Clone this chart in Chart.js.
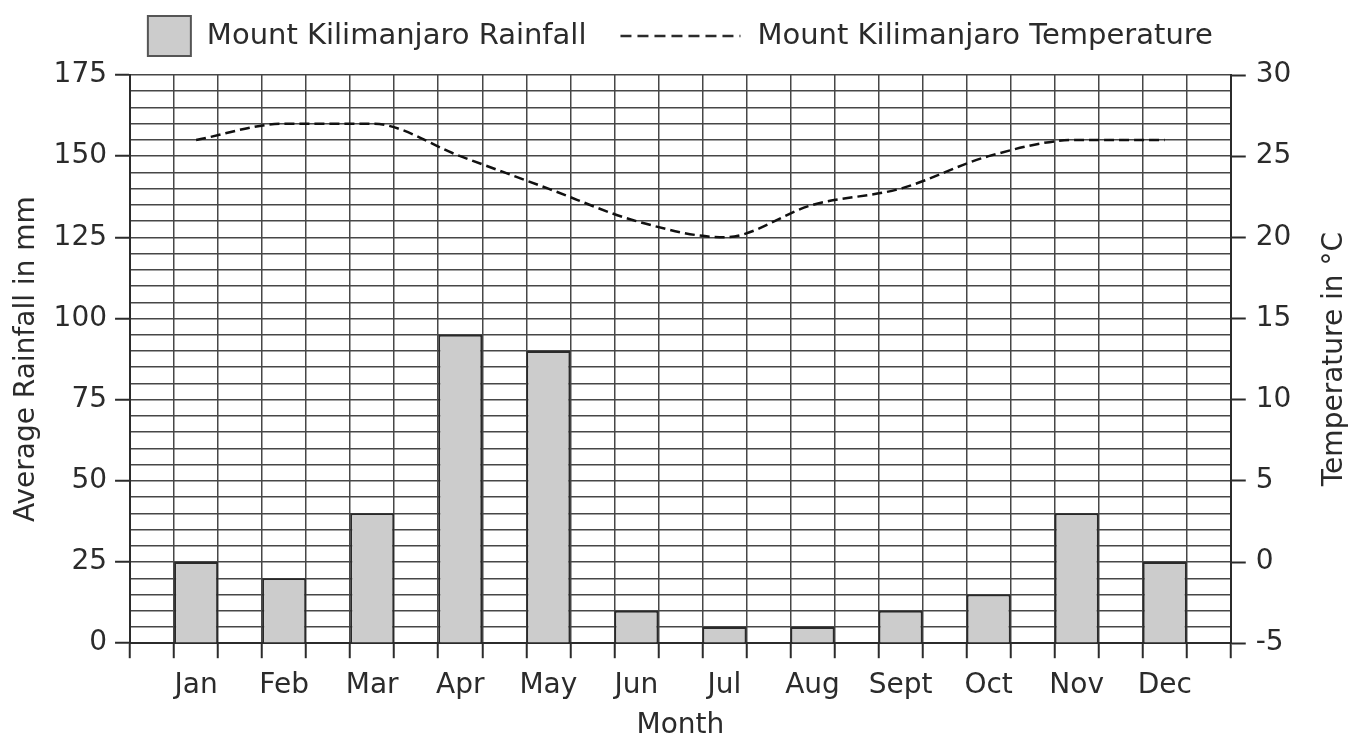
<!DOCTYPE html>
<html>
<head>
<meta charset="utf-8">
<script src="https://cdn.jsdelivr.net/npm/chart.js@4"></script>
<style>
    html, body { margin: 0; padding: 0; background: #fff; }
    #wrap { width: 1363px; height: 738px; }
</style>
</head>
<body>
<div id="wrap"><canvas id="climate-chart"></canvas></div>
<script>
// Chart data
const months = ['Jan', 'Feb', 'Mar', 'Apr', 'May', 'Jun', 'Jul', 'Aug', 'Sept', 'Oct', 'Nov', 'Dec'];
const rainfall = [25, 20, 40, 95, 90, 10, 5, 5, 10, 15, 40, 25];
const temperature = [26, 27, 27, 25, 23, 21, 20, 22, 23, 25, 26, 26];
const rainTicks = [0, 25, 50, 75, 100, 125, 150, 175];
const tempTicks = [-5, 0, 5, 10, 15, 20, 25, 30];

const rainLabel = 'Mount Kilimanjaro Rainfall';
const tempLabel = 'Mount Kilimanjaro Temperature';
const FONT = '"DejaVu Sans", "Open Sans", sans-serif';
const GRID = '#474747';
const INK = '#2b2b2b';

// each month takes two grid columns, bar sits in the second one
const monthPos = months.map((m, i) => 2 * i + 1.5);

// legend + right axis title drawn by hand (legend needs a long dashed sample)
const extrasPlugin = {
    id: 'extras',
    afterDraw(chart) {
        const ctx = chart.ctx;
        const area = chart.chartArea;
        ctx.save();
        ctx.font = '29px ' + FONT;
        ctx.fillStyle = INK;
        ctx.textBaseline = 'middle';

        const boxW = 43, boxH = 40, lineW = 120;
        const w1 = ctx.measureText(rainLabel).width;
        const w2 = ctx.measureText(tempLabel).width;
        const total = boxW + 16 + w1 + 34 + lineW + 17 + w2;
        let x = (area.left + area.right) / 2 - total / 2;
        const y = 36;

        ctx.fillStyle = '#cccccc';
        ctx.fillRect(x, y - boxH / 2, boxW, boxH);
        ctx.strokeStyle = '#555';
        ctx.lineWidth = 2;
        ctx.strokeRect(x, y - boxH / 2, boxW, boxH);
        x += boxW + 16;
        ctx.fillStyle = INK;
        ctx.fillText(rainLabel, x, y);
        x += w1 + 34;

        ctx.beginPath();
        ctx.setLineDash([11, 6]);
        ctx.strokeStyle = INK;
        ctx.lineWidth = 2.5;
        ctx.moveTo(x, y);
        ctx.lineTo(x + lineW, y);
        ctx.stroke();
        ctx.setLineDash([]);
        x += lineW + 17;
        ctx.fillText(tempLabel, x, y);

        // right axis title reads bottom to top
        const r = chart.scales.y1;
        ctx.translate(r.right - 17, (area.top + area.bottom) / 2);
        ctx.rotate(-Math.PI / 2);
        ctx.textAlign = 'center';
        ctx.font = '28px ' + FONT;
        ctx.fillText('Temperature in °C', 0, 0);
        ctx.restore();
    }
};

function tickVal(c) {
    return c.tick ? c.tick.value : NaN;
}

function initializeChart() {
    const ctx = document.getElementById('climate-chart').getContext('2d');

    new Chart(ctx, {
        data: {
            datasets: [{
                type: 'line',
                label: tempLabel,
                data: monthPos.map((x, i) => ({ x: x, y: temperature[i] })),
                yAxisID: 'y1',
                borderColor: '#111',
                borderWidth: 2.5,
                borderDash: [10, 5],
                pointRadius: 0,
                fill: false,
                cubicInterpolationMode: 'monotone'
            }, {
                type: 'bar',
                label: rainLabel,
                data: monthPos.map((x, i) => ({ x: x, y: rainfall[i] })),
                yAxisID: 'y',
                backgroundColor: '#cccccc',
                borderColor: '#2a2a2a',
                borderWidth: 2,
                // ruler uses the half-unit tick spacing, so 2x fills one grid column
                barPercentage: 2,
                categoryPercentage: 1
            }]
        },
        options: {
            responsive: true,
            maintainAspectRatio: false,
            animation: false,
            layout: { padding: { top: 75, left: 10, right: 11, bottom: 0 } },
            plugins: {
                legend: { display: false },
                tooltip: { enabled: false }
            },
            scales: {
                x: {
                    type: 'linear',
                    min: 0,
                    max: 25,
                    offset: false,
                    ticks: {
                        stepSize: 0.5,
                        autoSkip: false,
                        maxRotation: 0,
                        color: INK,
                        font: { family: FONT, size: 28, lineHeight: 1 },
                        padding: 14,
                        callback: (v) => {
                            const i = monthPos.indexOf(v);
                            return i >= 0 ? months[i] : '';
                        }
                    },
                    grid: {
                        offset: false,
                        color: (c) => Number.isInteger(tickVal(c)) ? GRID : 'transparent',
                        tickColor: (c) => Number.isInteger(tickVal(c)) ? INK : 'transparent',
                        lineWidth: 1.5,
                        tickLength: 15,
                        tickWidth: 2
                    },
                    border: { color: INK, width: 2 },
                    title: {
                        display: true,
                        text: 'Month',
                        color: INK,
                        font: { family: FONT, size: 28, lineHeight: 0.85 },
                        padding: { top: 0, bottom: 0 }
                    }
                },
                y: {
                    position: 'left',
                    min: 0,
                    max: 175,
                    ticks: {
                        stepSize: 5,
                        autoSkip: false,
                        color: INK,
                        font: { family: FONT, size: 28 },
                        padding: 8,
                        callback: (v) => rainTicks.includes(v) ? v : ''
                    },
                    grid: {
                        color: GRID,
                        lineWidth: 1.5,
                        tickLength: 15,
                        tickWidth: 2,
                        tickColor: (c) => rainTicks.includes(tickVal(c)) ? INK : 'transparent'
                    },
                    border: { color: INK, width: 2 },
                    title: {
                        display: true,
                        text: 'Average Rainfall in mm',
                        color: INK,
                        font: { family: FONT, size: 28 },
                        padding: { top: 0, bottom: 2 }
                    }
                },
                y1: {
                    position: 'right',
                    min: -5,
                    max: 30,
                    ticks: {
                        stepSize: 5,
                        color: INK,
                        font: { family: FONT, size: 28 },
                        padding: 10,
                        callback: (v) => tempTicks.includes(v) ? v : ''
                    },
                    grid: {
                        drawOnChartArea: false,
                        tickLength: 15,
                        tickWidth: 2,
                        tickColor: INK
                    },
                    border: { color: INK, width: 2 },
                    title: {
                        display: true,
                        text: 'Temperature in °C',
                        color: 'transparent',
                        font: { family: FONT, size: 28 },
                        padding: { top: 17, bottom: 0 }
                    }
                }
            }
        },
        plugins: [extrasPlugin]
    });
}

document.addEventListener('DOMContentLoaded', function() {
    initializeChart();
});
</script>
</body>
</html>
